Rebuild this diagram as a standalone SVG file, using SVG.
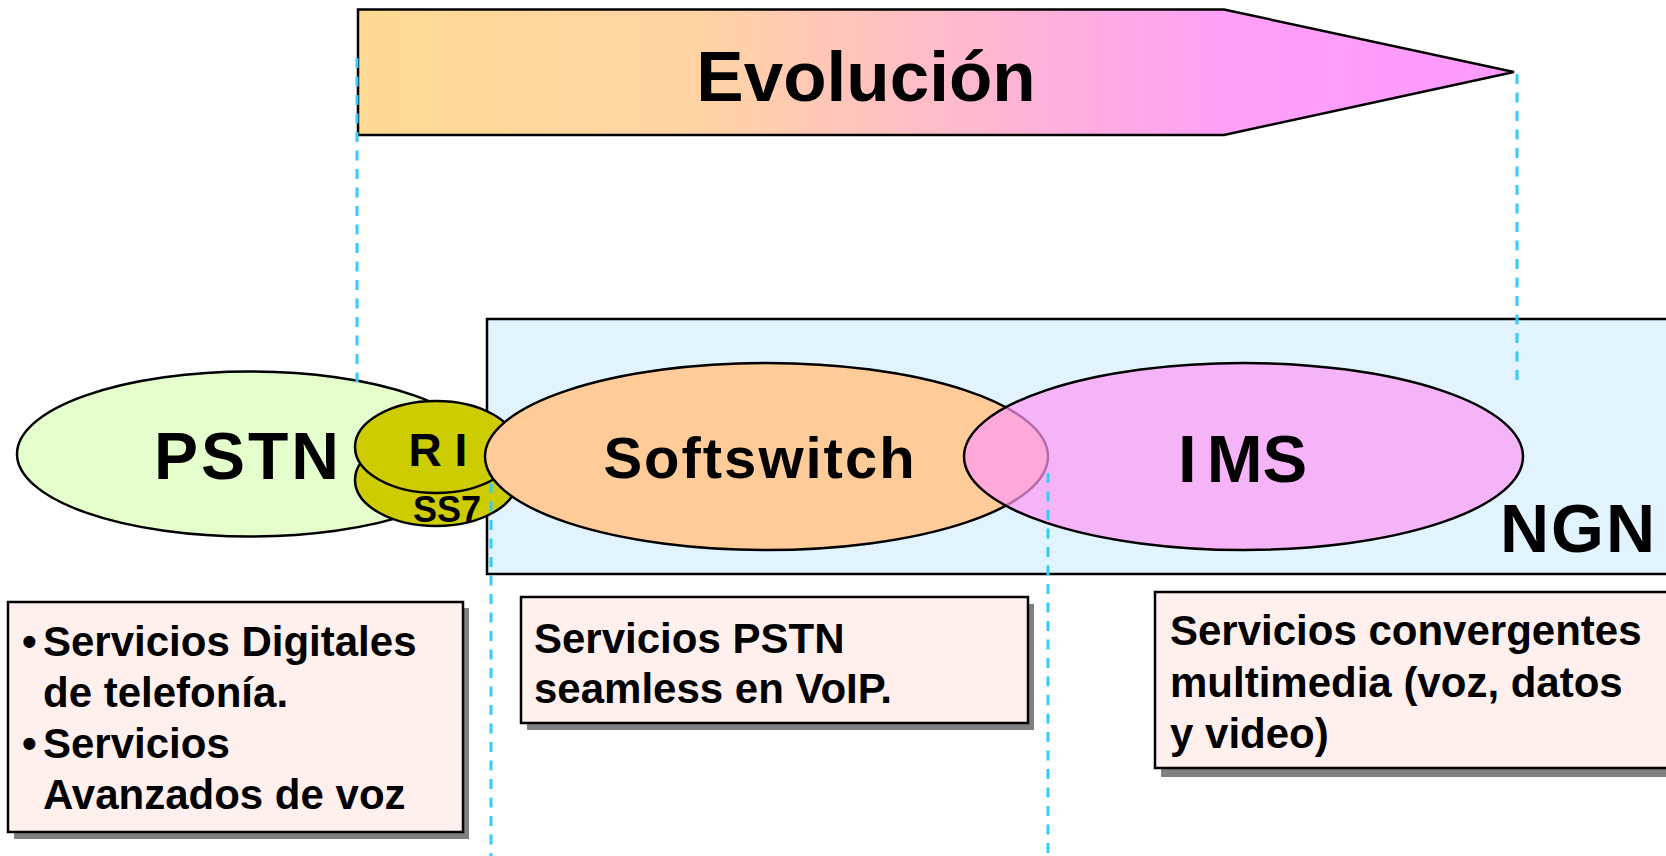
<svg xmlns="http://www.w3.org/2000/svg" width="1666" height="856" viewBox="0 0 1666 856">
<defs>
<linearGradient id="evo" x1="358" y1="0" x2="1514" y2="0" gradientUnits="userSpaceOnUse">
<stop offset="0" stop-color="#FFDA93"/>
<stop offset="0.3" stop-color="#FFD3A4"/>
<stop offset="0.75" stop-color="#FF9FF6"/>
<stop offset="1" stop-color="#FF99FF"/>
</linearGradient>
<style>
.t{font-family:"Liberation Sans",Arial,sans-serif;font-weight:bold;fill:#000}
.ol{stroke:#000;stroke-width:2.5}
.box{fill:#FFF0EE;stroke:#000;stroke-width:2.5}
.shadow{fill:#808080}
.dash{stroke:#33CCFF;stroke-width:3;stroke-dasharray:10 8.5;fill:none}
</style>
</defs>
<rect width="1666" height="856" fill="#fff"/>

<g id="evolucion">
<path d="M358,9.5 L1224,9.5 L1514,72 L1224,135 L358,135 Z" fill="url(#evo)" class="ol"/>
<text class="t" x="866" y="101" font-size="71" text-anchor="middle">Evolución</text>
</g>

<g id="ngn">
<rect x="487" y="319" width="1200" height="255" fill="#E0F3FE" class="ol"/>
<text class="t" x="1500" y="552" font-size="68" letter-spacing="2">NGN</text>
</g>

<g id="pstn">
<ellipse cx="250" cy="454" rx="233" ry="82.5" fill="#E4FFCC" class="ol"/>
<text class="t" x="154" y="479" font-size="66" letter-spacing="3">PSTN</text>
</g>

<g id="ss7">
<ellipse cx="436" cy="480" rx="81" ry="46" fill="#CCCC00" class="ol"/>
<text class="t" x="447" y="522" font-size="36" text-anchor="middle">SS7</text>
</g>

<g id="ri">
<ellipse cx="436" cy="447" rx="81" ry="46" fill="#CCCC00" class="ol"/>
<text class="t" x="438" y="466" font-size="46" text-anchor="middle">R I</text>
</g>

<g id="softswitch">
<ellipse cx="766.5" cy="456.5" rx="281.5" ry="93.5" fill="#FFCC99" class="ol"/>
<text class="t" x="760" y="478" font-size="58" letter-spacing="2" text-anchor="middle">Softswitch</text>
</g>

<g id="ims">
<ellipse cx="1243.5" cy="456.5" rx="279.5" ry="93.5" fill="#FF99F5" fill-opacity="0.7" class="ol"/>
<text class="t" x="1178" y="482" font-size="67">I<tspan dx="10">MS</tspan></text>
</g>

<g id="connectors">
<line class="dash" x1="357" y1="58" x2="357" y2="383"/>
<line class="dash" x1="1517" y1="74" x2="1517" y2="380"/>
<line class="dash" x1="491" y1="483" x2="491" y2="856"/>
<line class="dash" x1="1048" y1="473" x2="1048" y2="856"/>
</g>

<g id="box-pstn">
<rect class="shadow" x="14" y="608" width="455" height="231"/>
<rect class="box" x="8" y="602" width="455" height="230"/>
<text class="t" font-size="42">
<tspan x="22" y="656">•</tspan><tspan x="43" y="656">Servicios Digitales</tspan>
<tspan x="43" y="707">de telefonía.</tspan>
<tspan x="22" y="758">•</tspan><tspan x="43" y="758">Servicios</tspan>
<tspan x="43" y="809">Avanzados de voz</tspan>
</text>
</g>

<g id="box-softswitch">
<rect class="shadow" x="527" y="604" width="507" height="126"/>
<rect class="box" x="521" y="597" width="507" height="126"/>
<text class="t" font-size="42">
<tspan x="534" y="653">Servicios PSTN</tspan>
<tspan x="534" y="703">seamless en VoIP.</tspan>
</text>
</g>

<g id="box-ims">
<rect class="shadow" x="1161" y="600" width="600" height="177"/>
<rect class="box" x="1155" y="592" width="600" height="176"/>
<text class="t" font-size="42">
<tspan x="1170" y="645">Servicios convergentes</tspan>
<tspan x="1170" y="697">multimedia (voz, datos</tspan>
<tspan x="1170" y="748">y video)</tspan>
</text>
</g>
</svg>
